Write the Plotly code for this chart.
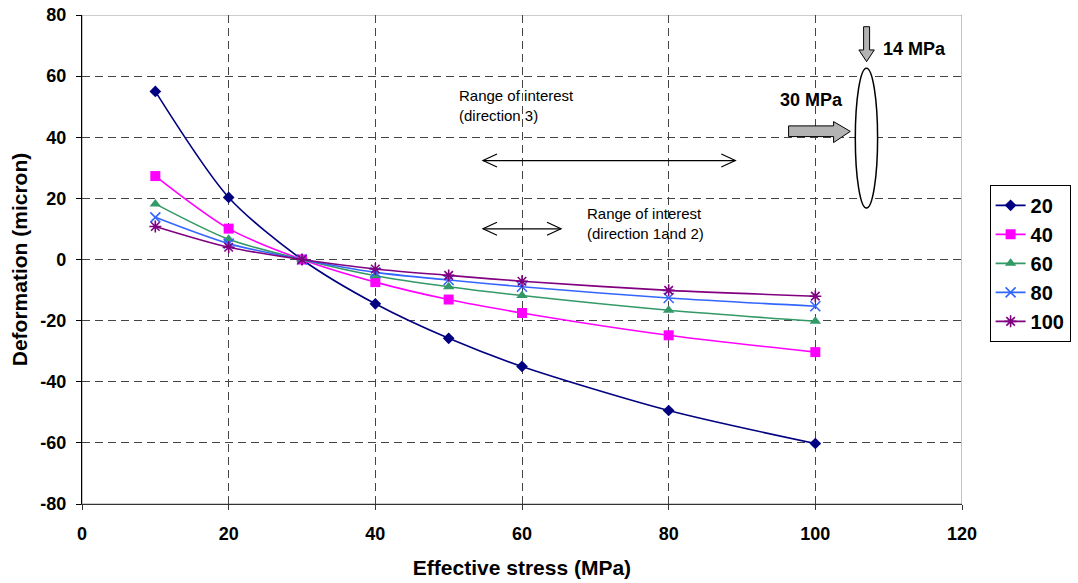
import plotly.graph_objects as go

# ---- data ----
stress = [10, 20, 30, 40, 50, 60, 80, 100]
series_names = ["20", "40", "60", "80", "100"]
def_20 = [55.0, 20.3, 0.0, -14.5, -25.8, -35.0, -49.4, -60.2]
def_40 = [27.3, 10.1, 0.0, -7.4, -13.1, -17.5, -24.8, -30.3]
def_60 = [18.2, 6.6, 0.0, -5.3, -8.9, -11.8, -16.6, -20.2]
def_80 = [13.8, 5.2, 0.0, -4.2, -6.7, -8.9, -12.6, -15.3]
def_100 = [10.8, 4.0, 0.0, -3.1, -5.2, -7.1, -10.1, -12.0]
x_ticks = [0, 20, 40, 60, 80, 100, 120]
y_ticks = [-80, -60, -40, -20, 0, 20, 40, 60, 80]
y_tick_text = ["-80", "-60", "-40", "-20", "0", "20", "40", "60", "80"]

series_values = [def_20, def_40, def_60, def_80, def_100]
colors = ["#000080", "#FF00FF", "#339966", "#3366FF", "#800080"]
symbols = ["diamond", "square", "triangle-up", "x-thin-open", "asterisk-open"]
sizes = [9, 10, 10, 10, 10]

FONT = "Arial, Liberation Sans, sans-serif"

fig = go.Figure()
for name, vals, c, s, sz in zip(series_names, series_values, colors, symbols, sizes):
    fig.add_trace(go.Scatter(
        x=stress, y=vals, name=name, mode="lines+markers",
        line=dict(color=c, width=1.6, shape="spline", smoothing=0.8),
        marker=dict(symbol=s, size=sz, color=c, line=dict(color=c, width=1.6 if "open" in s else 0)),
    ))

# pixel -> data helpers for the decorative drawing (window pixel coords)
X0, X1, Y0, Y1 = 81.7, 961.7, 15.0, 504.5
def dx(px):
    return (px - X0) / (X1 - X0) * 120
def dy(py):
    return 80 - (py - Y0) / (Y1 - Y0) * 160

shapes = []
# plot border (grey top/right)
shapes.append(dict(type="rect", xref="x", yref="y", x0=0, x1=120, y0=-80, y1=80,
                   line=dict(color="#9a9a9a", width=1.2), layer="below"))

# double-headed arrows with open chevrons
def dbl_arrow(px0, px1, py, hl=14, hh=6.5):
    out = []
    out.append(dict(type="line", xref="x", yref="y", x0=dx(px0), x1=dx(px1), y0=dy(py), y1=dy(py),
                    line=dict(color="black", width=1.2)))
    path_l = f"M {dx(px0+hl)},{dy(py-hh)} L {dx(px0)},{dy(py)} L {dx(px0+hl)},{dy(py+hh)}"
    path_r = f"M {dx(px1-hl)},{dy(py-hh)} L {dx(px1)},{dy(py)} L {dx(px1-hl)},{dy(py+hh)}"
    for p in (path_l, path_r):
        out.append(dict(type="path", xref="x", yref="y", path=p, line=dict(color="black", width=1.2)))
    return out

shapes += dbl_arrow(482.7, 735, 160.7)
shapes += dbl_arrow(482.7, 560.7, 229)

# ellipse
shapes.append(dict(type="circle", xref="x", yref="y", x0=dx(855), x1=dx(877.3), y0=dy(68.3), y1=dy(208.3),
                   line=dict(color="black", width=1.5), fillcolor="white"))

# down grey block arrow
pts = [(863.3, 26.7), (869.3, 26.7), (869.3, 50), (874, 50), (866.3, 61.7), (858.6, 50), (863.3, 50)]
path = "M " + " L ".join(f"{dx(a)},{dy(b)}" for a, b in pts) + " Z"
shapes.append(dict(type="path", xref="x", yref="y", path=path, fillcolor="#b3b3b3",
                   line=dict(color="black", width=1)))
# right grey block arrow
pts = [(788.3, 126), (833.3, 126), (833.3, 121.7), (850, 131.5), (833.3, 142.7), (833.3, 136.7), (788.3, 136.7)]
path = "M " + " L ".join(f"{dx(a)},{dy(b)}" for a, b in pts) + " Z"
shapes.append(dict(type="path", xref="x", yref="y", path=path, fillcolor="#b3b3b3",
                   line=dict(color="black", width=1)))

annotations = [
    dict(x=dx(457), y=dy(106), xref="x", yref="y", xanchor="left", yanchor="middle", align="left",
         text="Range of interest<br>(direction 3)", showarrow=False,
         font=dict(family=FONT, size=15, color="black")),
    dict(x=dx(585), y=dy(224), xref="x", yref="y", xanchor="left", yanchor="middle", align="left",
         text="Range of interest<br>(direction 1and 2)", showarrow=False,
         font=dict(family=FONT, size=15, color="black")),
    dict(x=dx(881), y=dy(49), xref="x", yref="y", xanchor="left", yanchor="middle",
         text="<b>14 MPa</b>", showarrow=False, font=dict(family=FONT, size=18, color="black")),
    dict(x=dx(811), y=dy(100), xref="x", yref="y", xanchor="center", yanchor="middle",
         text="<b>30 MPa</b>", showarrow=False, font=dict(family=FONT, size=18, color="black")),
]

fig.update_layout(
    width=1078, height=583,
    margin=dict(l=X0, r=1078 - X1, t=Y0, b=583 - Y1, autoexpand=False),
    paper_bgcolor="white", plot_bgcolor="white",
    font=dict(family=FONT, color="black"),
    shapes=shapes, annotations=annotations,
    legend=dict(x=(989.3 - X0) / (X1 - X0), y=(Y1 - 185) / (Y1 - Y0), xanchor="left", yanchor="top",
                bordercolor="black", borderwidth=1,
                font=dict(family=FONT, size=20, color="black", weight="bold"),
                itemwidth=30, tracegroupgap=0),
    xaxis=dict(range=[0, 120], tickvals=x_ticks, showgrid=True, gridcolor="#444444", griddash="8px,5px",
               gridwidth=1, zeroline=False, showline=True, linecolor="#333333", linewidth=1.2,
               ticks="outside", ticklen=5, tickcolor="#333333", automargin=False,
               ticklabelstandoff=8,
               tickfont=dict(family=FONT, size=18, weight="bold"),
               title=dict(text="<b>Effective stress (MPa)</b>", font=dict(family=FONT, size=21), standoff=17)),
    yaxis=dict(range=[-80, 80], tickvals=y_ticks, ticktext=y_tick_text, showgrid=True, gridcolor="#444444",
               griddash="8px,5px",
               gridwidth=1, zeroline=False, showline=True, linecolor="black", linewidth=1.2,
               ticks="outside", ticklen=5, tickcolor="black", automargin=False,
               ticklabelstandoff=6,
               tickfont=dict(family=FONT, size=18, weight="bold"),
               title=dict(text="<b>Deformation (micron)</b>", font=dict(family=FONT, size=21), standoff=6)),
)

# remove the default 8px page margin so the figure sits at the window origin
fig.write_html("out.html", config={"displayModeBar": False},
               post_script="document.body.style.margin='0';")
